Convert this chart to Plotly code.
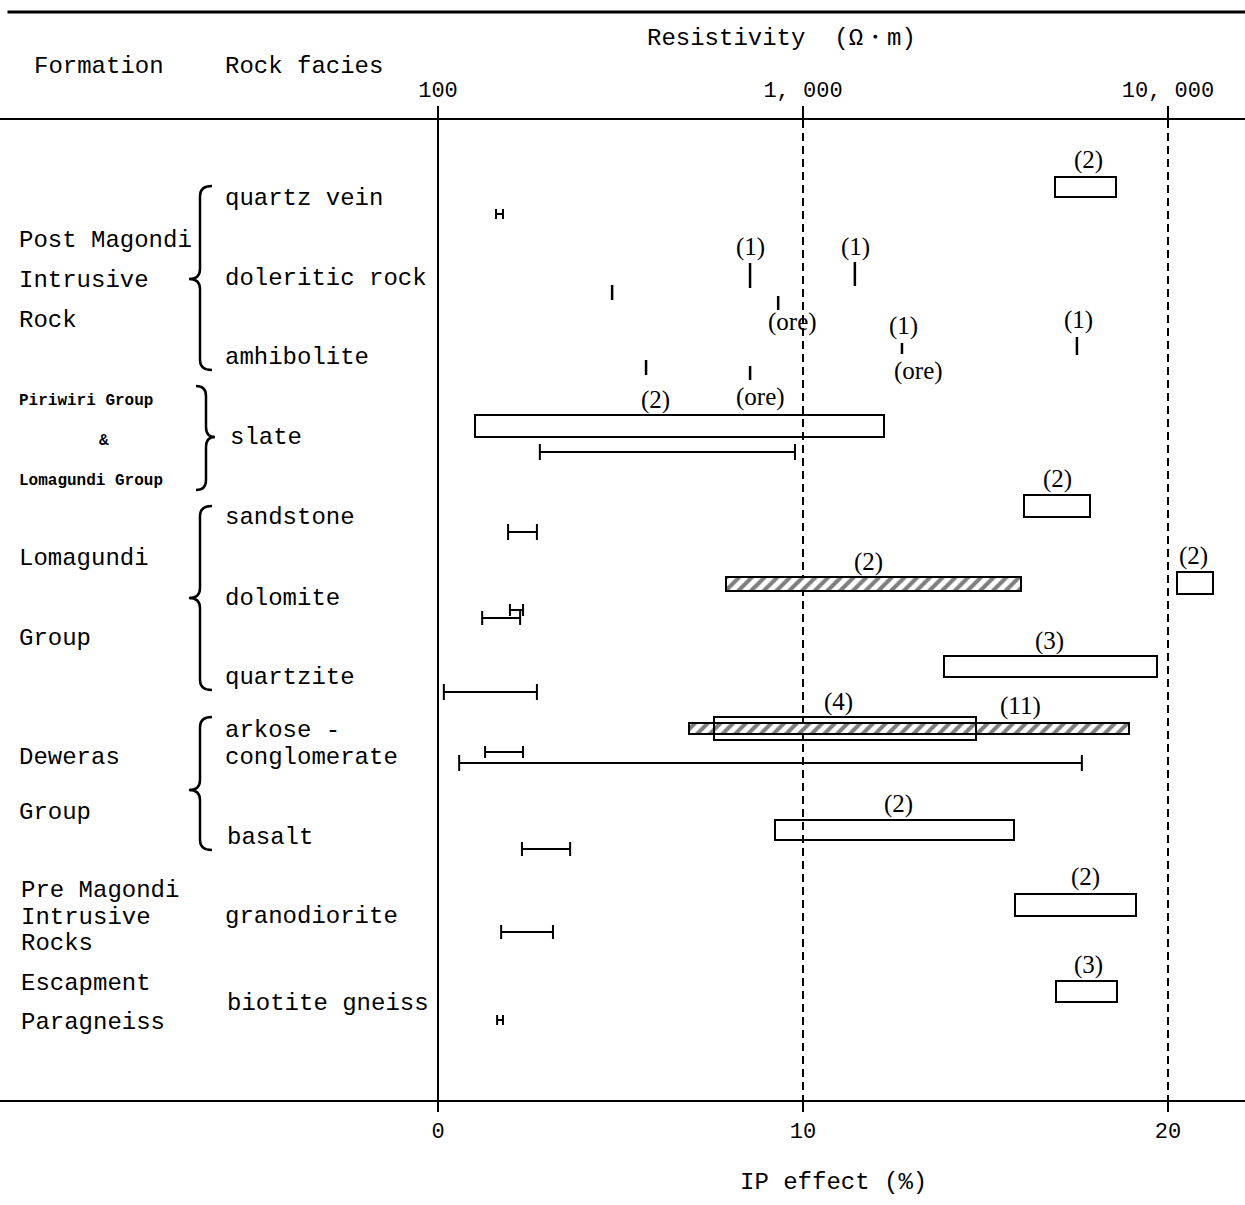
import numpy as np
import plotly.graph_objects as go

# ---------------- data ----------------
# Resistivity (ohm-m) ranges drawn as open boxes, with number of samples
res_open_facies = ["quartz vein", "slate", "sandstone", "dolomite", "quartzite",
                   "arkose - conglomerate", "basalt", "granodiorite", "biotite gneiss"]
res_open_lo = [4900, 126, 4030, 10600, 2430, 570, 840, 3820, 4940]
res_open_hi = [7200, 1670, 6100, 13300, 9330, 2980, 3790, 8160, 7250]
res_open_n = [2, 2, 2, 2, 3, 4, 2, 2, 3]

# Resistivity ranges drawn as hatched boxes
res_hatch_facies = ["dolomite", "arkose - conglomerate"]
res_hatch_lo = [615, 488]
res_hatch_hi = [3950, 7800]
res_hatch_n = [2, 11]

# Single resistivity measurements (1)
res_single_facies = ["doleritic rock", "doleritic rock", "amhibolite", "amhibolite"]
res_single_val = [716, 1387, 1867, 5630]
res_single_ore = [False, False, True, False]

# Single IP measurements (%)
ip_single_facies = ["doleritic rock", "doleritic rock", "amhibolite", "amhibolite"]
ip_single_val = [4.77, 9.32, 5.70, 8.55]
ip_single_ore = [False, True, False, True]

# IP effect ranges (%)
ip_range_facies = ["quartz vein", "slate", "sandstone", "dolomite", "dolomite", "quartzite",
                   "arkose - conglomerate", "arkose - conglomerate", "basalt",
                   "granodiorite", "biotite gneiss"]
ip_range_lo = [1.59, 2.79, 1.92, 1.21, 1.97, 0.16, 1.29, 0.58, 2.30, 1.73, 1.62]
ip_range_hi = [1.78, 9.78, 2.71, 2.25, 2.33, 2.71, 2.33, 17.64, 3.62, 3.15, 1.78]

ip_ticks = [0, 10, 20]
ip_ticklabels = ["0", "10", "20"]
res_ticks = [100, 1000, 10000]
res_ticklabels = ["100", "1, 000", "10, 000"]

formations = [
    ["Post Magondi", "Intrusive", "Rock"],
    ["Piriwiri Group", "&", "Lomagundi Group"],
    ["Lomagundi", "Group"],
    ["Deweras", "Group"],
    ["Pre Magondi", "Intrusive", "Rocks"],
    ["Escapment", "Paragneiss"],
]
rock_facies = ["quartz vein", "doleritic rock", "amhibolite", "slate", "sandstone",
               "dolomite", "quartzite", "arkose -\nconglomerate", "basalt",
               "granodiorite", "biotite gneiss"]

# ---------------- layout helpers ----------------
W, H = 1245, 1205
TOP, BOT = 120, 1100
X0PX, PXU = 438.0, 36.5


def px(xp):
    return (xp - X0PX) / PXU


def r2x(r):
    return 10.0 * (np.log10(r) - 2.0)


def yp(py):
    return (BOT - py) / (BOT - TOP)


MONO = "Liberation Mono"
SERIF = "Liberation Serif"

# y positions (pixel rows) for the marks
open_y = [187, 426, 506, 583, 666.5, 728.5, 830, 905, 991.5]
open_h = [20, 22, 22, 22, 21, 23, 20, 22, 21]
open_lbl = [(1088, 160), (655, 400), (1057, 479), (1193, 556), (1049, 641),
            (838, 702), (898, 804), (1085, 877), (1088, 965)]
hatch_y = [584, 728.5]
hatch_h = [14, 11]
hatch_lbl = [(868, 562), (1020, 706)]
res_single_y = [(263, 288), (262, 286), (343, 354), (337, 355)]
res_single_lbl = [(750, 247), (855, 247), (904, 326), (1078, 320)]
res_single_ore_lbl = [None, None, (918, 371), None]
ip_single_y = [(285, 300), (296, 310), (360, 375), (366, 380)]
ip_single_ore_lbl = [None, (792, 322), None, (760, 397)]
ip_range_y = [214, 452, 532, 618, 610, 692, 752, 763, 849, 932, 1020]
ip_range_cap = [5, 8, 8, 7, 6, 8, 6, 8, 7, 7, 5]

fig = go.Figure()

# hatched resistivity boxes
fig.add_trace(go.Bar(
    orientation="h",
    base=[r2x(l) for l in res_hatch_lo],
    x=[r2x(h) - r2x(l) for l, h in zip(res_hatch_lo, res_hatch_hi)],
    y=hatch_y, width=hatch_h,
    marker=dict(color="white", line=dict(color="black", width=2),
                pattern=dict(shape="/", fgcolor="black", bgcolor="white",
                             size=9, solidity=0.45)),
    showlegend=False, hoverinfo="skip"))

# open resistivity boxes
fig.add_trace(go.Bar(
    orientation="h",
    base=[r2x(l) for l in res_open_lo],
    x=[r2x(h) - r2x(l) for l, h in zip(res_open_lo, res_open_hi)],
    y=open_y, width=open_h,
    marker=dict(color="rgba(0,0,0,0)", line=dict(color="black", width=2)),
    showlegend=False, hoverinfo="skip"))

# IP ranges as error bars with caps
for lo, hi, y, cap in zip(ip_range_lo, ip_range_hi, ip_range_y, ip_range_cap):
    mid = (lo + hi) / 2
    fig.add_trace(go.Scatter(
        x=[mid], y=[y], mode="markers",
        marker=dict(size=1, color="rgba(0,0,0,0)"),
        error_x=dict(type="data", array=[(hi - lo) / 2], color="black",
                     thickness=2, width=cap),
        showlegend=False, hoverinfo="skip"))

# single-value ticks
sx, sy = [], []
for v, (y0, y1) in zip(res_single_val, res_single_y):
    sx += [r2x(v), r2x(v), None]
    sy += [y0, y1, None]
for v, (y0, y1) in zip(ip_single_val, ip_single_y):
    sx += [v, v, None]
    sy += [y0, y1, None]
fig.add_trace(go.Scatter(x=sx, y=sy, mode="lines",
                         line=dict(color="black", width=2.5),
                         showlegend=False, hoverinfo="skip"))

ann = []


def txt(xpix, ypix, s, size=24, family=MONO, anchor="left", bold=False):
    if bold:
        s = "<b>" + s + "</b>"
    ann.append(dict(x=xpix / W, y=yp(ypix), xref="paper", yref="paper", text=s,
                    showarrow=False, xanchor=anchor, yanchor="middle",
                    font=dict(family=family, size=size, color="black")))


# count labels
for n, (lx, ly) in zip(res_open_n, open_lbl):
    txt(lx, ly, f"({n})", size=25, family=SERIF, anchor="center")
for n, (lx, ly) in zip(res_hatch_n, hatch_lbl):
    txt(lx, ly, f"({n})", size=25, family=SERIF, anchor="center")
for (lx, ly) in res_single_lbl:
    txt(lx, ly, "(1)", size=25, family=SERIF, anchor="center")
for p in res_single_ore_lbl + ip_single_ore_lbl:
    if p:
        txt(p[0], p[1], "(ore)", size=25, family=SERIF, anchor="center")

# headers
txt(32, 67, "Formation")
txt(223, 66, "Rock facies")
txt(645, 38, "Resistivity  (Ω・m)")
txt(738, 1182, "IP effect (%)")

# formation labels
form_pos = [
    [(17, 240), (17, 280), (17, 320)],
    [(17, 401), (97, 441), (17, 481)],
    [(17, 558), (17, 638)],
    [(17, 757), (17, 812)],
    [(19, 890), (19, 917), (19, 943)],
    [(19, 983), (19, 1022)],
]
for names, poss in zip(formations, form_pos):
    for nm, (xx, yy) in zip(names, poss):
        if names[0].startswith("Piriwiri"):
            txt(xx, yy, nm, size=16, bold=True)
        else:
            txt(xx, yy, nm)

facies_pos = [(223, 199), (223, 279), (223, 357), (228, 437), (223, 517), (223, 598),
              (223, 677), (223, 744), (225, 837), (223, 916), (225, 1003)]
for nm, (xx, yy) in zip(rock_facies, facies_pos):
    if "\n" in nm:
        a, b = nm.split("\n")
        txt(xx, yy - 14, a)
        txt(xx, yy + 13, b)
    else:
        txt(xx, yy, nm)

# braces


def brace(xe, xs, xt, yt, ym, yb, r=10):
    X = lambda v: px(v)
    return (f"M {X(xe)},{yt} Q {X(xs)},{yt} {X(xs)},{yt + r} "
            f"L {X(xs)},{ym - r} Q {X(xs)},{ym} {X(xt)},{ym} "
            f"Q {X(xs)},{ym} {X(xs)},{ym + r} "
            f"L {X(xs)},{yb - r} Q {X(xs)},{yb} {X(xe)},{yb}")


shapes = []
for args in [(212, 200, 189, 186, 279, 370), (196, 206, 215, 386, 437, 490),
             (212, 200, 189, 506, 598, 690), (212, 200, 189, 717, 790, 850)]:
    shapes.append(dict(type="path", xref="x", yref="y", path=brace(*args),
                       line=dict(color="black", width=2.5)))

# header rule at top of page
shapes.append(dict(type="line", xref="paper", yref="paper", x0=0.006, x1=1.0,
                   y0=yp(12), y1=yp(12), line=dict(color="black", width=3)))

fig.update_layout(
    width=W, height=H, margin=dict(l=0, r=0, t=TOP, b=H - BOT),
    paper_bgcolor="white", plot_bgcolor="white",
    barmode="overlay", bargap=0,
    annotations=ann, shapes=shapes, showlegend=False,
    xaxis=dict(range=[px(0), px(W)], tickvals=ip_ticks, ticktext=ip_ticklabels,
               ticks="outside", ticklen=10, tickwidth=2, tickcolor="black",
               showline=True, linecolor="black", linewidth=2,
               showgrid=True, gridcolor="black", gridwidth=2, griddash="8px,5px",
               zeroline=True, zerolinecolor="black", zerolinewidth=2,
               tickfont=dict(family=MONO, size=22, color="black"),
               ticklabelstandoff=0),
    xaxis2=dict(range=[px(0), px(W)], overlaying="x", side="top", anchor="y",
                tickvals=[r2x(v) for v in res_ticks], ticktext=res_ticklabels,
                ticks="outside", ticklen=12, tickwidth=2, tickcolor="black",
                showline=True, linecolor="black", linewidth=2, showgrid=False,
                zeroline=False,
                tickfont=dict(family=MONO, size=22, color="black")),
    yaxis=dict(range=[BOT, TOP], visible=False, showgrid=False, zeroline=False),
)
# dummy trace so the top axis is drawn
fig.add_trace(go.Scatter(x=[px(0)], y=[BOT], xaxis="x2", mode="markers",
                         marker=dict(size=1, color="rgba(0,0,0,0)"),
                         showlegend=False, hoverinfo="skip"))

fig.write_html("out.html", config={"displayModeBar": False},
               post_script="document.body.style.margin='0px';")
